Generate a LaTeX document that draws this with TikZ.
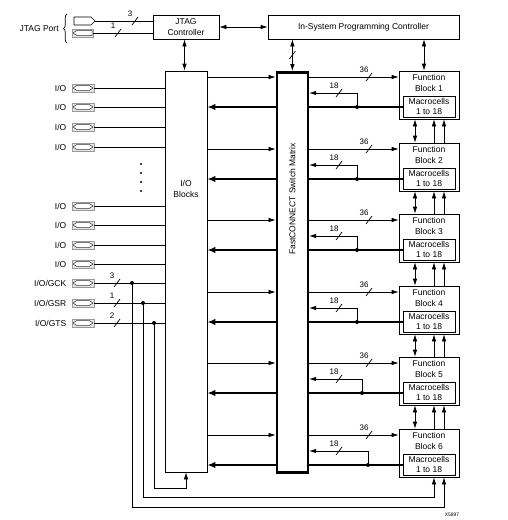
\documentclass[tikz,border=0pt]{standalone}
\usepackage{fontspec}
\setmainfont{Liberation Sans}
\usetikzlibrary{arrows.meta,positioning,shapes.symbols,decorations.pathreplacing}

\newcommand{\busmark}[3]{%
  \draw (#1) ++(-3,4) -- ++(6,-8);
  \path (#1) ++(-5,-7) node[font=\fontsize{8}{8}\selectfont] (#3) {#2};}

\begin{document}
\begin{tikzpicture}[x=1pt, y=-1pt, line width=0.7pt,
    >={Latex[length=7pt,width=4.5pt]},
    every node/.style={font=\fontsize{8.5}{10.5}\selectfont, inner sep=0pt, align=center},
    box/.style={draw, fill=white},
    bus/.style={line width=2.8pt, >={Latex[length=8pt,width=6.5pt]}},
    pad/.style={draw=gray!80, fill=gray!20, minimum width=22pt, minimum height=8pt},
    iopin/.style={pad, path picture={\draw[black!80, fill=white, line width=0.5pt]
      ([xshift=1pt]path picture bounding box.west) -- ([xshift=5pt, yshift=2.6pt]path picture bounding box.west)
      -- ([xshift=-5pt, yshift=2.6pt]path picture bounding box.east) -- ([xshift=-1pt]path picture bounding box.east)
      -- ([xshift=-5pt, yshift=-2.6pt]path picture bounding box.east) -- ([xshift=5pt, yshift=-2.6pt]path picture bounding box.west) -- cycle;}},
    outpin/.style={pad, path picture={\draw[black!80, fill=white, line width=0.5pt]
      ([xshift=1pt]path picture bounding box.west) -- ([xshift=5pt, yshift=2.6pt]path picture bounding box.west)
      -- ([xshift=-1pt, yshift=2.6pt]path picture bounding box.east) -- ([xshift=-1pt, yshift=-2.6pt]path picture bounding box.east)
      -- ([xshift=5pt, yshift=-2.6pt]path picture bounding box.west) -- cycle;}}]
  \useasboundingbox (0,0) rectangle (507,520);

  % controllers and blocks
  \node[box, minimum width=66pt, minimum height=24pt] (jtag) at (186,27) {JTAG\\Controller};
  \node[box, minimum width=191pt, minimum height=24pt] (isp) at (363.5,27) {In-System Programming Controller};
  \node[box, minimum width=42pt, minimum height=401pt] (iob) at (186,271.5) {};
  \node (ioblbl) at (186,189) {I/O\\Blocks};
  \node[box, line width=2.6pt, minimum width=31pt, minimum height=400pt] (fcsm) at (292.4,272.4) {};
  \node[rotate=90] (fcsmlbl) at (292.4,199) {FastCONNECT Switch Matrix};

  % JTAG port
  \node[draw, signal, signal to=east, minimum width=21pt, minimum height=8pt] (tin) at (82.5,21) {};
  \node[outpin, minimum width=21pt] (tout) at (82.5,33) {};
  \node[anchor=east] (jport) at (59,29) {JTAG Port};
  \draw[decorate, decoration={brace, amplitude=3.5pt}] (67,43) -- (67,14);
  \draw (tin.east) -- (tin.east -| jtag.west);
  \draw (tout.east) -- (tout.east -| jtag.west);
  \busmark{135,21}{3}{jw1}
  \busmark{118,33}{1}{jw2}

  \draw[<->] (jtag.east) -- (isp.west);
  \draw[<->] ([xshift=-1.5pt]jtag.south) -- ([xshift=-1.5pt]jtag.south |- iob.north);
  \draw[<->] (fcsm.north |- isp.south) -- (fcsm.north);
  \busmark{292.4,55}{}{ispw}

  % function blocks
  \foreach \i/\t/\d in {1/71/357, 2/143/357, 3/214/357, 4/286/357, 5/357/362, 6/429/368} {
    \node[box, minimum width=60pt, minimum height=48pt] (fb\i) at (429,\t+24) {};
    \node (fbt\i) at (429,\t+12) {Function\\Block \i};
    \node[box, minimum width=52pt, minimum height=21pt] (mc\i) at (429,\t+35.5) {Macrocells\\1 to 18};
    \coordinate (a\i) at (0,\t+6);
    \coordinate (b\i) at (0,\t+22);
    \coordinate (c\i) at (0,\t+36);
    \coordinate (d\i) at (\d,\t+36);
    \draw[->] (iob.east |- a\i) -- (fcsm.west |- a\i);
    \draw[->] (fcsm.east |- a\i) -- (fb\i.west |- a\i);
    \draw[bus] (fcsm.east |- c\i) -- (mc\i.west |- c\i);
    \draw[bus, ->] (fcsm.west |- c\i) -- (iob.east |- c\i);
    \draw[->] (d\i) |- (fcsm.east |- b\i);
    \fill (d\i) circle (2pt);
    \busmark{369,\t+6}{36}{w\i}
    \busmark{339,\t+22}{18}{v\i}
  }
  \draw[<->] ([xshift=-5pt]fb1.north |- isp.south) -- ([xshift=-5pt]fb1.north);
  \foreach \i [count=\j from 2] in {1,...,5} {
    \draw[<->] ([xshift=-14pt]fb\i.south) -- ([xshift=-14pt]fb\j.north);
    \draw[->] ([xshift=5pt]fb\j.north) -- ([xshift=5pt]fb\i.south);
    \draw[->] ([xshift=15pt]fb\j.north) -- ([xshift=15pt]fb\i.south);
  }

  % I/O pins
  \foreach \y [count=\k] in {88,107,127,147,206,225,245,264} {
    \node[iopin] (io\k) at (83,\y) {};
    \node[left=5pt of io\k] (iol\k) {I/O};
    \draw (io\k.east) -- (io\k.east -| iob.west);
  }
  \foreach \y in {164,173,182,191}
    \fill (141,\y) circle (1.2pt);

  % global clock, set/reset, tristate
  \foreach \y/\n/\w/\x [count=\k] in {283/GCK/3/132, 303/GSR/1/143, 323/GTS/2/154} {
    \node[iopin] (g\k) at (83,\y) {};
    \node[left=5pt of g\k] (gl\k) {I/O/\n};
    \draw (g\k.east) -- (g\k.east -| iob.west);
    \coordinate (gd\k) at (\x,\y);
    \fill (gd\k) circle (2pt);
    \busmark{117,\y}{\w}{gw\k}
  }
  \coordinate (r1) at (0,507);
  \coordinate (r2) at (0,497);
  \coordinate (r3) at (0,488);
  \coordinate (ck1) at ([xshift=15pt]fb6.south);
  \coordinate (ck2) at ([xshift=5pt]fb6.south);
  \draw[->] (gd1) |- (ck1 |- r1) -- (ck1);
  \draw[->] (gd2) |- (ck2 |- r2) -- (ck2);
  \draw[->] (gd3) |- (iob.south |- r3) -- (iob.south);

  \node[font=\fontsize{5}{6}\selectfont] (fig) at (452,515) {X5897};
\end{tikzpicture}
\end{document}
